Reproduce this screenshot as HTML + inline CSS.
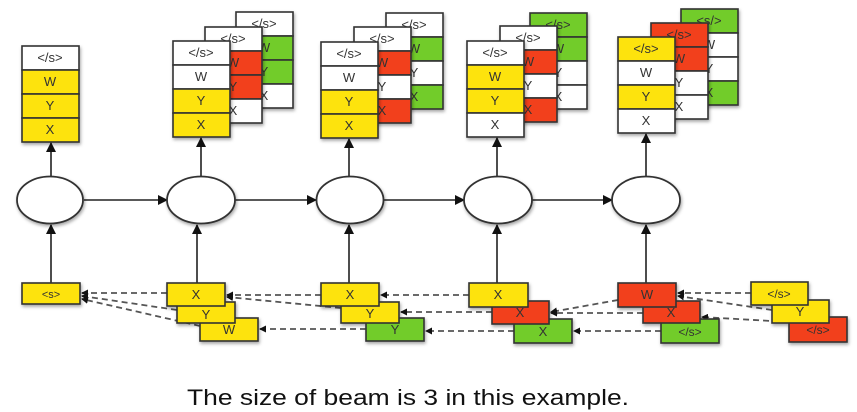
<!DOCTYPE html>
<html><head><meta charset="utf-8"><style>
html,body{margin:0;padding:0;background:#fff;}
svg{display:block;}
text{font-family:"Liberation Sans",sans-serif;}
</style></head><body>
<svg width="857" height="412" viewBox="0 0 857 412" xmlns="http://www.w3.org/2000/svg">
<defs>
<marker id="a" markerWidth="10" markerHeight="10" refX="9" refY="5" orient="auto" markerUnits="userSpaceOnUse"><path d="M0,0 L10,5 L0,10 z" fill="#111"/></marker>
<marker id="s" markerWidth="7" markerHeight="7" refX="6" refY="3.5" orient="auto" markerUnits="userSpaceOnUse"><path d="M0,0 L7,3.5 L0,7 z" fill="#111"/></marker>
<filter id="sh" x="-20%" y="-20%" width="150%" height="150%"><feDropShadow dx="1" dy="2" stdDeviation="1.5" flood-color="#000" flood-opacity="0.35"/></filter>
</defs>
<g stroke="#333" stroke-width="1.6" font-size="13" text-anchor="middle">
<g filter="url(#sh)">
<rect x="22" y="46" width="57" height="24" fill="#fff"/><rect x="22" y="70" width="57" height="24" fill="#fde30f"/><rect x="22" y="94" width="57" height="24" fill="#fde30f"/><rect x="22" y="118" width="57" height="24" fill="#fde30f"/>
</g>
<g stroke="none" fill="#333"><text x="50" y="62">&lt;/s&gt;</text><text x="50" y="86">W</text><text x="50" y="110">Y</text><text x="50" y="134">X</text></g>

<g filter="url(#sh)"><rect x="236" y="12" width="57" height="24" fill="#fff"/><rect x="236" y="36" width="57" height="24" fill="#72cc2c"/><rect x="236" y="60" width="57" height="24" fill="#72cc2c"/><rect x="236" y="84" width="57" height="24" fill="#fff"/></g>
<g stroke="none" fill="#333"><text x="264" y="28">&lt;/s&gt;</text><text x="264" y="52">W</text><text x="264" y="76">Y</text><text x="264" y="100">X</text></g>
<g filter="url(#sh)"><rect x="205" y="27" width="57" height="24" fill="#fff"/><rect x="205" y="51" width="57" height="24" fill="#f2401d"/><rect x="205" y="75" width="57" height="24" fill="#f2401d"/><rect x="205" y="99" width="57" height="24" fill="#fff"/></g>
<g stroke="none" fill="#333"><text x="233" y="43">&lt;/s&gt;</text><text x="233" y="67">W</text><text x="233" y="91">Y</text><text x="233" y="115">X</text></g>
<g filter="url(#sh)"><rect x="173" y="41" width="57" height="24" fill="#fff"/><rect x="173" y="65" width="57" height="24" fill="#fff"/><rect x="173" y="89" width="57" height="24" fill="#fde30f"/><rect x="173" y="113" width="57" height="24" fill="#fde30f"/></g>
<g stroke="none" fill="#333"><text x="201" y="57">&lt;/s&gt;</text><text x="201" y="81">W</text><text x="201" y="105">Y</text><text x="201" y="129">X</text></g>

<g filter="url(#sh)"><rect x="386" y="13" width="57" height="24" fill="#fff"/><rect x="386" y="37" width="57" height="24" fill="#72cc2c"/><rect x="386" y="61" width="57" height="24" fill="#fff"/><rect x="386" y="85" width="57" height="24" fill="#72cc2c"/></g>
<g stroke="none" fill="#333"><text x="414" y="29">&lt;/s&gt;</text><text x="414" y="53">W</text><text x="414" y="77">Y</text><text x="414" y="101">X</text></g>
<g filter="url(#sh)"><rect x="354" y="27" width="57" height="24" fill="#fff"/><rect x="354" y="51" width="57" height="24" fill="#f2401d"/><rect x="354" y="75" width="57" height="24" fill="#fff"/><rect x="354" y="99" width="57" height="24" fill="#f2401d"/></g>
<g stroke="none" fill="#333"><text x="382" y="43">&lt;/s&gt;</text><text x="382" y="67">W</text><text x="382" y="91">Y</text><text x="382" y="115">X</text></g>
<g filter="url(#sh)"><rect x="321" y="42" width="57" height="24" fill="#fff"/><rect x="321" y="66" width="57" height="24" fill="#fff"/><rect x="321" y="90" width="57" height="24" fill="#fde30f"/><rect x="321" y="114" width="57" height="24" fill="#fde30f"/></g>
<g stroke="none" fill="#333"><text x="349" y="58">&lt;/s&gt;</text><text x="349" y="82">W</text><text x="349" y="106">Y</text><text x="349" y="130">X</text></g>

<g filter="url(#sh)"><rect x="530" y="13" width="57" height="24" fill="#72cc2c"/><rect x="530" y="37" width="57" height="24" fill="#72cc2c"/><rect x="530" y="61" width="57" height="24" fill="#fff"/><rect x="530" y="85" width="57" height="24" fill="#fff"/></g>
<g stroke="none" fill="#333"><text x="558" y="29">&lt;/s&gt;</text><text x="558" y="53">W</text><text x="558" y="77">Y</text><text x="558" y="101">X</text></g>
<g filter="url(#sh)"><rect x="500" y="26" width="57" height="24" fill="#fff"/><rect x="500" y="50" width="57" height="24" fill="#f2401d"/><rect x="500" y="74" width="57" height="24" fill="#fff"/><rect x="500" y="98" width="57" height="24" fill="#f2401d"/></g>
<g stroke="none" fill="#333"><text x="528" y="42">&lt;/s&gt;</text><text x="528" y="66">W</text><text x="528" y="90">Y</text><text x="528" y="114">X</text></g>
<g filter="url(#sh)"><rect x="467" y="41" width="57" height="24" fill="#fff"/><rect x="467" y="65" width="57" height="24" fill="#fde30f"/><rect x="467" y="89" width="57" height="24" fill="#fde30f"/><rect x="467" y="113" width="57" height="24" fill="#fff"/></g>
<g stroke="none" fill="#333"><text x="495" y="57">&lt;/s&gt;</text><text x="495" y="81">W</text><text x="495" y="105">Y</text><text x="495" y="129">X</text></g>

<g filter="url(#sh)"><rect x="681" y="9" width="57" height="24" fill="#72cc2c"/><rect x="681" y="33" width="57" height="24" fill="#fff"/><rect x="681" y="57" width="57" height="24" fill="#fff"/><rect x="681" y="81" width="57" height="24" fill="#72cc2c"/></g>
<g stroke="none" fill="#333"><text x="709" y="25">&lt;s/&gt;</text><text x="709" y="49">W</text><text x="709" y="73">Y</text><text x="709" y="97">X</text></g>
<g filter="url(#sh)"><rect x="651" y="23" width="57" height="24" fill="#f2401d"/><rect x="651" y="47" width="57" height="24" fill="#f2401d"/><rect x="651" y="71" width="57" height="24" fill="#fff"/><rect x="651" y="95" width="57" height="24" fill="#fff"/></g>
<g stroke="none" fill="#333"><text x="679" y="39">&lt;/s&gt;</text><text x="679" y="63">W</text><text x="679" y="87">Y</text><text x="679" y="111">X</text></g>
<g filter="url(#sh)"><rect x="618" y="37" width="57" height="24" fill="#fde30f"/><rect x="618" y="61" width="57" height="24" fill="#fff"/><rect x="618" y="85" width="57" height="24" fill="#fde30f"/><rect x="618" y="109" width="57" height="24" fill="#fff"/></g>
<g stroke="none" fill="#333"><text x="646" y="53">&lt;/s&gt;</text><text x="646" y="77">W</text><text x="646" y="101">Y</text><text x="646" y="125">X</text></g>
</g>

<g stroke="#222" stroke-width="1.6" fill="none">
<line x1="51" y1="176" x2="51" y2="143" marker-end="url(#a)"/>
<line x1="201" y1="176" x2="201" y2="138" marker-end="url(#a)"/>
<line x1="349" y1="176" x2="349" y2="139" marker-end="url(#a)"/>
<line x1="497" y1="176" x2="497" y2="138" marker-end="url(#a)"/>
<line x1="646" y1="176" x2="646" y2="134" marker-end="url(#a)"/>
<line x1="51" y1="283" x2="51" y2="225" marker-end="url(#a)"/>
<line x1="197" y1="283" x2="197" y2="225" marker-end="url(#a)"/>
<line x1="349" y1="283" x2="349" y2="225" marker-end="url(#a)"/>
<line x1="497" y1="283" x2="497" y2="225" marker-end="url(#a)"/>
<line x1="646" y1="283" x2="646" y2="225" marker-end="url(#a)"/>
<line x1="84" y1="200" x2="167" y2="200" marker-end="url(#a)"/>
<line x1="235" y1="200" x2="316" y2="200" marker-end="url(#a)"/>
<line x1="384" y1="200" x2="464" y2="200" marker-end="url(#a)"/>
<line x1="532" y1="200" x2="612" y2="200" marker-end="url(#a)"/>
</g>
<g stroke="#333" stroke-width="1.8" fill="#fff" filter="url(#sh)">
<ellipse cx="50" cy="200" rx="33" ry="23.5"/>
<ellipse cx="201" cy="200" rx="34" ry="23.5"/>
<ellipse cx="350" cy="200" rx="33.5" ry="23.5"/>
<ellipse cx="498" cy="200" rx="34" ry="23.5"/>
<ellipse cx="646" cy="200" rx="34" ry="23.5"/>
</g>

<g stroke="#555" stroke-width="1.8" stroke-dasharray="6,4" fill="none">
<line x1="167" y1="293" x2="82" y2="293" marker-end="url(#s)"/>
<line x1="177" y1="310" x2="82" y2="296" marker-end="url(#s)"/>
<line x1="200" y1="326" x2="82" y2="299" marker-end="url(#s)"/>
<line x1="321" y1="295" x2="227" y2="295" marker-end="url(#s)"/>
<line x1="341" y1="308" x2="227" y2="297" marker-end="url(#s)"/>
<line x1="366" y1="329" x2="260" y2="329" marker-end="url(#s)"/>
<line x1="469" y1="295" x2="381" y2="295" marker-end="url(#s)"/>
<line x1="492" y1="312" x2="401" y2="312" marker-end="url(#s)"/>
<line x1="514" y1="331" x2="426" y2="331" marker-end="url(#s)"/>
<line x1="618" y1="300" x2="551" y2="312" marker-end="url(#s)"/>
<line x1="643" y1="313" x2="551" y2="313" marker-end="url(#s)"/>
<line x1="661" y1="331" x2="574" y2="331" marker-end="url(#s)"/>
<line x1="751" y1="293" x2="678" y2="293" marker-end="url(#s)"/>
<line x1="772" y1="310" x2="678" y2="296" marker-end="url(#s)"/>
<line x1="789" y1="322" x2="702" y2="317" marker-end="url(#s)"/>
</g>

<g stroke="#333" stroke-width="1.6" filter="url(#sh)">
<rect x="22" y="283" width="58" height="21" fill="#fde30f"/>
<rect x="200" y="318" width="58" height="23" fill="#fde30f"/>
<rect x="177" y="302" width="58" height="21" fill="#fde30f"/>
<rect x="167" y="283" width="58" height="23" fill="#fde30f"/>
<rect x="366" y="318" width="58" height="23" fill="#72cc2c"/>
<rect x="341" y="302" width="58" height="21" fill="#fde30f"/>
<rect x="321" y="283" width="58" height="23" fill="#fde30f"/>
<rect x="514" y="319" width="58" height="24" fill="#72cc2c"/>
<rect x="492" y="301" width="57" height="23" fill="#f2401d"/>
<rect x="469" y="283" width="59" height="24" fill="#fde30f"/>
<rect x="661" y="319" width="58" height="24" fill="#72cc2c"/>
<rect x="643" y="301" width="57" height="22" fill="#f2401d"/>
<rect x="618" y="283" width="58" height="24" fill="#f2401d"/>
<rect x="789" y="317" width="58" height="25" fill="#f2401d"/>
<rect x="772" y="300" width="57" height="23" fill="#fde30f"/>
<rect x="751" y="282" width="57" height="23" fill="#fde30f"/>
</g>
<g font-size="13" text-anchor="middle" fill="#333">
<text x="51" y="298" font-size="11">&lt;s&gt;</text>
<text x="196" y="299">X</text><text x="206" y="319">Y</text><text x="229" y="334">W</text>
<text x="350" y="299">X</text><text x="370" y="318">Y</text><text x="395" y="334">Y</text>
<text x="498" y="299">X</text><text x="520" y="317">X</text><text x="543" y="336">X</text>
<text x="647" y="299">W</text><text x="671" y="317">X</text><text x="690" y="336" font-size="12">&lt;/s&gt;</text>
<text x="779" y="298" font-size="12">&lt;/s&gt;</text><text x="800" y="316">Y</text><text x="818" y="334" font-size="12">&lt;/s&gt;</text>
</g>

<text x="408" y="405" font-size="22" text-anchor="middle" fill="#111" textLength="442" lengthAdjust="spacingAndGlyphs">The size of beam is 3 in this example.</text>
</svg>
</body></html>
